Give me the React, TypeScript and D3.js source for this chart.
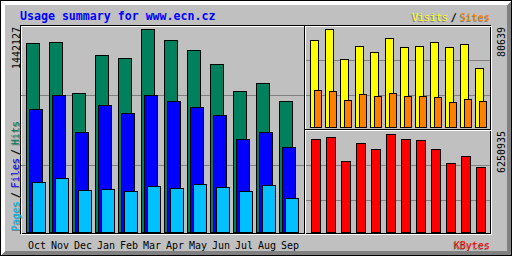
import React from "react";
import * as d3 from "d3";

const months = ["Oct", "Nov", "Dec", "Jan", "Feb", "Mar", "Apr", "May", "Jun", "Jul", "Aug", "Sep"];
const hits = [1342700, 1349700, 987500, 1257400, 1236000, 1442127, 1364000, 1293000, 1193500, 1001600, 1058400, 930600];
const files = [873800, 971000, 708300, 900000, 843200, 971000, 928500, 885800, 829000, 658500, 708300, 601700];
const pages = [355200, 383600, 298400, 305500, 291300, 326800, 312600, 341000, 319700, 291300, 333900, 241500];
const visits = [71590, 80639, 55954, 66650, 61713, 73233, 65828, 66650, 69941, 65828, 68296, 48548];
const sites = [30445, 29622, 22217, 27154, 25508, 27977, 25508, 25508, 24685, 20571, 23040, 21394];
const kbytes = [5932000, 6059500, 4528800, 5677000, 5294200, 6250935, 5932000, 5868200, 5294200, 4401200, 4847700, 4146000];

const title = "Usage summary for www.ecn.cz";

const GREY = "#c0c0c0";
const DKGREY = "#808080";
const HIT = "#00805c";
const FILE = "#0000ff";
const PAGE = "#00c0ff";
const VISIT = "#ffff00";
const SITE = "#ff8000";
const KB = "#ff0000";
const MONO = "'DejaVu Sans Mono', 'Liberation Mono', monospace";

const W = 512;
const H = 256;

function Bars({ data, y, x, offset, width, base, color }: any) {
  return (
    <g>
      {data.map((v: number, i: number) => {
        if (v <= 0) return null;
        const x1 = (x(months[i]) as number) + offset;
        const y1 = Math.round(y(v));
        return (
          <rect
            key={i}
            x={x1 + 0.5}
            y={y1 + 0.5}
            width={width}
            height={base - y1}
            fill={color}
            stroke="#000"
            strokeWidth={1}
          />
        );
      })}
    </g>
  );
}

function UpText({ x, y, text, color, shadow = true }: any) {
  return (
    <g fontFamily={MONO} fontSize={10}>
      {shadow && (
        <text transform={`translate(${x + 1},${y + 1}) rotate(-90)`} fill={DKGREY}>
          {text}
        </text>
      )}
      <text transform={`translate(${x},${y}) rotate(-90)`} fill={color}>
        {text}
      </text>
    </g>
  );
}

function HText({ x, y, text, color }: any) {
  return (
    <g fontFamily={MONO} fontSize={10}>
      <text x={x - 1} y={y + 1} fill={DKGREY}>{text}</text>
      <text x={x} y={y} fill={color}>{text}</text>
    </g>
  );
}

export default function App() {
  const xMain = d3.scaleBand<string>().domain(months).range([26, 26 + 12 * 23]).padding(0);
  const xRight = d3.scaleBand<string>().domain(months).range([310, 310 + 12 * 15]).padding(0);

  const maxMain = d3.max(hits) as number;
  const maxVisits = d3.max(visits) as number;
  const maxKb = d3.max(kbytes) as number;

  const yMain = d3.scaleLinear().domain([0, maxMain]).range([232, 29]);
  const yVisits = d3.scaleLinear().domain([0, maxVisits]).range([127, 29]);
  const yKb = d3.scaleLinear().domain([0, maxKb]).range([232, 134]);

  const topLeft = `M0,0 L${W},0 L${W - 5},5 L5,5 L5,${H - 5} L0,${H} Z`;
  const botRight = `M${W},0 L${W},${H} L0,${H} L5,${H - 5} L${W - 5},${H - 5} L${W - 5},5 Z`;

  return (
    <svg
      width={W}
      height={H}
      style={{ position: "absolute", left: 0, top: 0, display: "block" }}
      shapeRendering="crispEdges"
    >
      <rect x={0} y={0} width={W} height={H} fill={GREY} />
      <path d={topLeft} fill="#fff" />
      <path d={botRight} fill={DKGREY} />
      <rect x={0.5} y={0.5} width={W - 1} height={H - 1} fill="none" stroke="#000" />

      {/* frame */}
      <rect x={20.5} y={25.5} width={470} height={208} fill="none" stroke="#000" />
      <rect x={21.5} y={26.5} width={470} height={208} fill="none" stroke="#fff" />

      {/* grid lines */}
      <line x1={21} x2={304} y1={95.5} y2={95.5} stroke={DKGREY} />
      <line x1={21} x2={304} y1={165.5} y2={165.5} stroke={DKGREY} />
      <line x1={306} x2={490} y1={60.5} y2={60.5} stroke={DKGREY} />
      <line x1={306} x2={490} y1={95.5} y2={95.5} stroke={DKGREY} />
      <line x1={306} x2={490} y1={165.5} y2={165.5} stroke={DKGREY} />
      <line x1={306} x2={490} y1={200.5} y2={200.5} stroke={DKGREY} />

      {/* section lines */}
      <line x1={304.5} x2={304.5} y1={25} y2={234} stroke="#000" />
      <line x1={305.5} x2={305.5} y1={26} y2={234} stroke="#fff" />
      <line x1={305} x2={491} y1={129.5} y2={129.5} stroke="#000" />
      <line x1={306} x2={491} y1={130.5} y2={130.5} stroke="#fff" />

      {/* title */}
      <text x={20} y={20} fontFamily={MONO} fontWeight="bold" fontSize={11.6} fill="#0000ff">
        {title}
      </text>

      {/* main bars */}
      <Bars data={hits} y={yMain} x={xMain} offset={0} width={13} base={232} color={HIT} />
      <Bars data={files} y={yMain} x={xMain} offset={3} width={13} base={232} color={FILE} />
      <Bars data={pages} y={yMain} x={xMain} offset={6} width={13} base={232} color={PAGE} />

      {/* right top bars */}
      <Bars data={visits} y={yVisits} x={xRight} offset={0} width={8} base={127} color={VISIT} />
      <Bars data={sites} y={yVisits} x={xRight} offset={4} width={7} base={127} color={SITE} />

      {/* right bottom bars */}
      <Bars data={kbytes} y={yKb} x={xRight} offset={1} width={9} base={232} color={KB} />

      {/* month labels */}
      <g fontFamily={MONO} fontSize={10} fill="#000">
        {months.map((m) => (
          <text key={m} x={(xMain(m) as number) + 2} y={249}>
            {m}
          </text>
        ))}
      </g>

      {/* max labels */}
      <UpText x={19.5} y={69} text={String(maxMain)} color="#000" shadow={false} />
      <UpText x={504.5} y={57} text={String(maxVisits)} color="#000" shadow={false} />
      <UpText x={504.5} y={173} text={String(maxKb)} color="#000" shadow={false} />

      {/* left legend */}
      <UpText x={18.5} y={231} text="Pages" color={PAGE} />
      <UpText x={18.5} y={198} text="/" color="#000" />
      <UpText x={18.5} y={188} text="Files" color={FILE} />
      <UpText x={18.5} y={155} text="/" color="#000" />
      <UpText x={18.5} y={145} text="Hits" color={HIT} />

      {/* visits / sites legend */}
      <HText x={412} y={21} text="Visits" color={VISIT} />
      <HText x={451} y={21} text="/" color="#000" />
      <HText x={460} y={21} text="Sites" color={SITE} />

      {/* kbytes legend */}
      <HText x={454} y={249} text="KBytes" color={KB} />
    </svg>
  );
}
